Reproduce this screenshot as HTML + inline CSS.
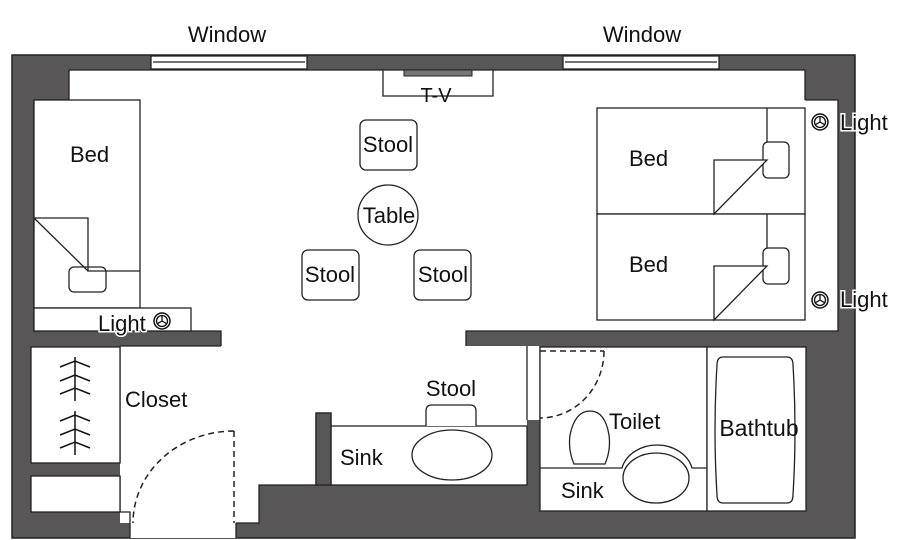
<!DOCTYPE html>
<html><head><meta charset="utf-8"><style>
html,body{margin:0;padding:0;background:#fff;width:900px;height:540px;overflow:hidden}
text{font-family:"Liberation Sans",Arial,sans-serif;font-size:22px;fill:#111}
</style></head><body>
<svg width="900" height="540" viewBox="0 0 900 540" xmlns="http://www.w3.org/2000/svg">
<defs>
<g id="lamp"><circle r="8" fill="#fff" stroke="#111" stroke-width="1.5"/><circle r="5.5" fill="none" stroke="#111" stroke-width="1.3"/><path d="M0 0V-5.5M0 0L4.8 2.8M0 0L-4.8 2.8" stroke="#111" stroke-width="1.3"/></g>
</defs>
<text x="227" y="42" text-anchor="middle">Window</text>
<text x="642" y="42" text-anchor="middle">Window</text>
<rect x="12" y="55" width="843" height="483" fill="#595657" stroke="#222" stroke-width="1.5"/>
<g fill="#fff" stroke="#222" stroke-width="1.3">
<rect x="151" y="56" width="156" height="13"/>
<rect x="563" y="56" width="156" height="13"/>
</g>
<path d="M153 62H305M565 62H717" stroke="#222" stroke-width="1.3"/>
<g fill="#fff" stroke="none">
<rect x="69" y="70" width="736" height="261"/>
<rect x="34" y="100" width="157" height="231"/>
<rect x="805" y="100" width="33" height="231"/>
<rect x="221" y="330" width="245" height="17"/>
<rect x="120" y="346" width="407" height="80"/>
<rect x="120" y="425" width="196" height="60"/>
<rect x="120" y="484" width="139" height="39"/>
<rect x="130" y="522" width="106" height="16"/>
<rect x="527" y="346" width="13" height="74"/>
</g>
<path d="M69 100V70H805V100M805 100H838V331H466V346M221 346V331H191M34 100H69M34 100V331H191M120 346H221M120 346V463M120 476V512H130V523M236 523H259V485H316V413H331V426M527 346V420M540 346V420" fill="none" stroke="#222" stroke-width="1.3"/>
<path d="M130 523V538M236 523V538" stroke="#222" stroke-width="1.3"/>
<g fill="#fff" stroke="#222" stroke-width="1.3">
<rect x="31" y="347" width="89" height="116"/>
<rect x="31" y="476" width="89" height="36"/>
<rect x="331" y="426" width="196" height="59"/>
<rect x="540" y="347" width="167" height="164"/>
<rect x="707" y="347" width="99" height="164"/>
<path d="M383 70V96H493V70" fill="none"/>
<rect x="34" y="100" width="106" height="208"/>
<rect x="34" y="308" width="157" height="23"/>
<rect x="69" y="267" width="37" height="25" rx="5"/>
<path d="M34 218H88V271H140M34 218L88 271" fill="none"/>
<rect x="597" y="108" width="208" height="106"/>
<rect x="597" y="214" width="208" height="106"/>
<path d="M767 108V160M767 214V266" fill="none"/>
<rect x="763" y="142" width="26" height="36" rx="5"/>
<rect x="763" y="248" width="26" height="36" rx="5"/>
<path d="M767 160H714V214ZM767 266H714V320Z"/>
<rect x="360" y="120" width="57" height="50" rx="6"/>
<rect x="302" y="250" width="57" height="50" rx="6"/>
<rect x="414" y="250" width="57" height="50" rx="6"/>
<circle cx="388" cy="215" r="30"/>
<path d="M426 426V411Q426 405 432 405H470Q476 405 476 411V426"/>
<ellipse cx="452" cy="455" rx="40" ry="25"/>
<path d="M540 468H622A36 30 0 0 1 692 468H707" fill="none"/>
<path d="M574 464Q568 450 570 435Q575 411 590 411Q605 411 609 435Q611 450 605 464Z"/>
<ellipse cx="656" cy="478" rx="33" ry="25"/>
<path d="M723 357H787Q793 357 793 365Q797 430 793 495Q793 503 787 503H723Q717 503 717 495Q713 430 717 365Q717 357 723 357Z"/>
</g>
<rect x="404" y="70" width="68" height="6" fill="#777" stroke="#222" stroke-width="1"/>
<rect x="316" y="413" width="15" height="72" fill="#595657" stroke="#222" stroke-width="1.3"/>
<path d="M234 431V523M234 431A101 92 0 0 0 133 523M540 351H604M604 351A64 67 0 0 1 540 418" fill="none" stroke="#222" stroke-width="1.5" stroke-dasharray="6 4"/>
<g stroke="#111" stroke-width="1.5" fill="none">
<path d="M75 357V401M60 367L75 361L90 367M60 381L75 375L90 381M60 394L75 388L90 394"/>
<path d="M75 411V455M60 421L75 415L90 421M60 435L75 429L90 435M60 448L75 442L90 448"/>
</g>
<use href="#lamp" x="162" y="321"/>
<use href="#lamp" x="820" y="122"/>
<use href="#lamp" x="820" y="300"/>
<text x="70" y="162">Bed</text>
<text x="629" y="166">Bed</text>
<text x="629" y="272">Bed</text>
<text x="388" y="152" text-anchor="middle">Stool</text>
<text x="330" y="282" text-anchor="middle">Stool</text>
<text x="443" y="282" text-anchor="middle">Stool</text>
<text x="389" y="223" text-anchor="middle">Table</text>
<text x="436" y="102" text-anchor="middle" style="font-size:20px">T-V</text>
<text x="98" y="331" stroke="#fff" stroke-width="3" paint-order="stroke">Light</text>
<text x="840" y="130" stroke="#fff" stroke-width="3" paint-order="stroke">Light</text>
<text x="840" y="307" stroke="#fff" stroke-width="3" paint-order="stroke">Light</text>
<text x="125" y="407">Closet</text>
<text x="451" y="396" text-anchor="middle">Stool</text>
<text x="340" y="465">Sink</text>
<text x="609" y="429">Toilet</text>
<text x="561" y="498">Sink</text>
<text x="759" y="436" text-anchor="middle" style="font-size:23px">Bathtub</text>
</svg>
</body></html>
